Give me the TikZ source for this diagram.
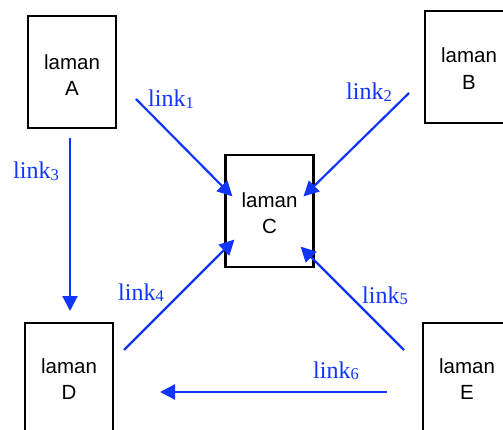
\documentclass[tikz,border=0pt]{standalone}
\usepackage{fontspec}
\setmainfont{Liberation Serif}
\newfontfamily\boxfont{Liberation Sans}
\usetikzlibrary{arrows.meta}
\definecolor{linkblue}{RGB}{18,52,255}
\tikzset{
  box/.style={draw=black, line width=2.7pt, minimum width=88pt, minimum height=112pt, inner sep=0pt},
  boxtext/.style={align=center, inner sep=0pt, font=\boxfont\fontsize{20.5}{26.5}\selectfont},
  linkarrow/.style={draw=linkblue, line width=2.2pt, -{Triangle[length=15pt, width=15pt]}, shorten >=-2pt},
  linklabel/.style={text=linkblue, font=\fontsize{24}{24}\selectfont, inner sep=0pt}
}
\newcommand{\lnk}[1]{link\raisebox{-1.5pt}{\fontsize{16.5}{16}\selectfont #1}}
\begin{document}
\begin{tikzpicture}[x=1pt, y=-1pt]
  \useasboundingbox (0,0) rectangle (503,430);
  \clip (0,0) rectangle (503,430);
  \fill[white] (0,0) rectangle (503,430);

  % pages
  \node[box, label={[boxtext, yshift=-3pt]center:laman\\A}] (A) at (72,72) {};
  \node[box, label={[boxtext, yshift=-1.5pt]center:laman\\B}] (B) at (469,67) {};
  \node[box, label={[boxtext, yshift=-2pt]center:laman\\C}] (C) at (269.5,211) {};
  \node[box, label={[boxtext, yshift=0pt]center:laman\\D}] (D) at (69,379) {};
  \node[box, label={[boxtext, yshift=0pt]center:laman\\E}] (E) at (467,379) {};

  % link end points
  \coordinate (l1s) at (136,99);
  \coordinate (l1e) at (231,195);
  \coordinate (l2s) at (409,93);
  \coordinate (l2e) at (305,195);
  \coordinate (l3s) at (70,138);
  \coordinate (l3e) at (70,309);
  \coordinate (l4s) at (124,350);
  \coordinate (l4e) at (233,241);
  \coordinate (l5s) at (404,350);
  \coordinate (l5e) at (302,248);
  \coordinate (l6s) at (387,392);
  \coordinate (l6e) at (162,392);

  \draw[linkarrow] (l1s) -- (l1e);
  \draw[linkarrow] (l2s) -- (l2e);
  \draw[linkarrow] (l3s) -- (l3e);
  \draw[linkarrow] (l4s) -- (l4e);
  \draw[linkarrow] (l5s) -- (l5e);
  \draw[linkarrow] (l6s) -- (l6e);

  % labels
  \node[linklabel, anchor=base west] (L1) at (148,107) {\lnk{1}};
  \node[linklabel, anchor=base west] (L2) at (346,100) {\lnk{2}};
  \node[linklabel, anchor=base west] (L3) at (13,179) {\lnk{3}};
  \node[linklabel, anchor=base west] (L4) at (118,300) {\lnk{4}};
  \node[linklabel, anchor=base west] (L5) at (362,303) {\lnk{5}};
  \node[linklabel, anchor=base west] (L6) at (313,378) {\lnk{6}};
\end{tikzpicture}
\end{document}
